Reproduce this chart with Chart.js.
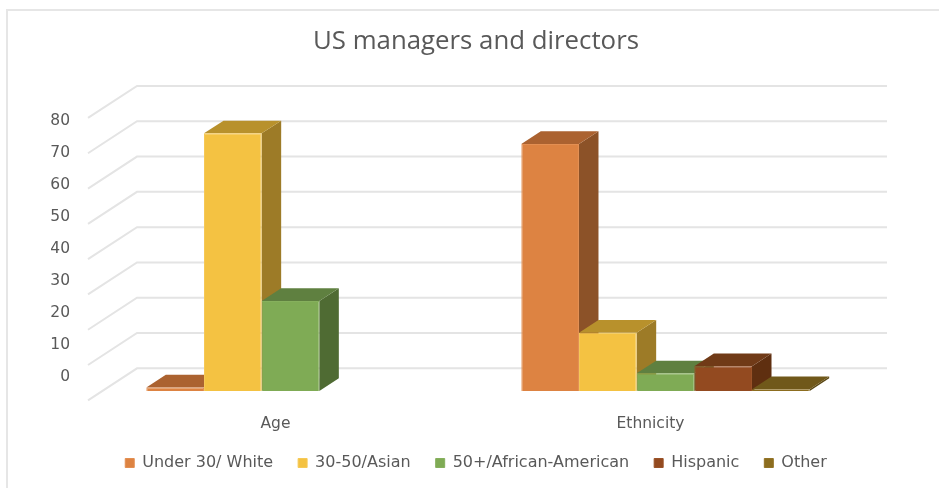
<!DOCTYPE html>
<html>
<head>
<meta charset="utf-8">
<title>US managers and directors</title>
<script src="https://cdn.jsdelivr.net/npm/chart.js@4"></script>
<style>
    html, body { margin: 0; padding: 0; background: #fff; }
    #wrap { position: relative; width: 939px; height: 488px; }
</style>
</head>
<body>
<div id="wrap"><canvas id="chart"></canvas></div>
<script>
var categories = ['Age', 'Ethnicity'];
var seriesNames = ['Under 30/ White', '30-50/Asian', '50+/African-American', 'Hispanic', 'Other'];
var under30White = [1, 70];
var age30to50Asian = [73, 16.5];
var age50plusAfrican = [25.5, 5];
var hispanic = [null, 7];
var other = [null, 0.5];
var tickValues = [0, 10, 20, 30, 40, 50, 60, 70, 80];

var frontColors = ['#dd8342', '#f4c242', '#7fab55', '#934a20', '#8c6d1f'];
var edgeColors = ['#e38f52', '#f6c957', '#86b05d', '#9a5228', '#937427'];
var topColors = ['#ab6230', '#b8912c', '#5f8040', '#703a17', '#70581a'];
var sideColors = ['#8c5228', '#9d7b27', '#4f6b33', '#5f2f10', '#5a4713'];

var gridColor = '#e4e4e4';
var textColor = '#595959';

// offsets of the 3D box, in pixels from the plane the bars stand on
var floorFront = { x: -15, y: 9.3 };
var backWall = { x: 34, y: -22.7 };
var barDepth = { x: 19.5, y: -12.7 };

function poly(ctx, pts, color) {
    ctx.fillStyle = color;
    ctx.beginPath();
    ctx.moveTo(pts[0][0], pts[0][1]);
    for (var i = 1; i < pts.length; i++) {
        ctx.lineTo(pts[i][0], pts[i][1]);
    }
    ctx.closePath();
    ctx.fill();
}

// frame of the picture, floor and back wall lines
var wallsPlugin = {
    id: 'walls',
    afterLayout: function(chart) {
        // tick labels get clipped to the axis box, let them hang into the legend's space
        chart.scales.x.bottom += 8;
    },
    beforeDatasetsDraw: function(chart) {
        var ctx = chart.ctx;
        var area = chart.chartArea;
        var y = chart.scales.y;

        ctx.save();
        ctx.strokeStyle = '#e6e6e6';
        ctx.lineWidth = 2;
        ctx.beginPath();
        ctx.moveTo(939, 10);
        ctx.lineTo(7, 10);
        ctx.lineTo(7, 488);
        ctx.stroke();

        ctx.strokeStyle = gridColor;
        ctx.lineWidth = 2;
        tickValues.forEach(function(v) {
            var py = y.getPixelForValue(v);
            ctx.beginPath();
            ctx.moveTo(area.left + floorFront.x, py + floorFront.y);
            ctx.lineTo(area.left + backWall.x, py + backWall.y);
            ctx.lineTo(area.right + backWall.x, py + backWall.y);
            ctx.stroke();
        });

        // side and top of each bar, left to right so the next bar covers the previous one
        chart.data.datasets.forEach(function(ds, i) {
            var meta = chart.getDatasetMeta(i);
            meta.data.forEach(function(bar, j) {
                if (ds.data[j] === null) {
                    return;
                }
                var p = bar.getProps(['x', 'y', 'base', 'width'], true);
                var l = p.x - p.width / 2;
                var r = p.x + p.width / 2;
                poly(ctx, [[r, p.y], [r + barDepth.x, p.y + barDepth.y],
                    [r + barDepth.x, p.base + barDepth.y], [r, p.base]], sideColors[i]);
                poly(ctx, [[l, p.y], [l + barDepth.x, p.y + barDepth.y],
                    [r + barDepth.x, p.y + barDepth.y], [r, p.y]], topColors[i]);
            });
        });
        ctx.restore();
    }
};

var datasets = [under30White, age30to50Asian, age50plusAfrican, hispanic, other].map(function(values, i) {
    return {
        label: seriesNames[i],
        data: values,
        backgroundColor: frontColors[i],
        borderColor: edgeColors[i],
        borderWidth: 1,
        categoryPercentage: 0.769,
        barPercentage: 1
    };
});

new Chart(document.getElementById('chart'), {
    type: 'bar',
    data: { labels: categories, datasets: datasets },
    plugins: [wallsPlugin],
    options: {
        responsive: true,
        maintainAspectRatio: false,
        animation: false,
        layout: { padding: { left: 13, right: 0, top: 0, bottom: 7 } },
        plugins: {
            title: {
                display: true,
                text: 'US managers and directors',
                color: textColor,
                font: { family: 'Open Sans', size: 25.8, weight: 'normal' },
                padding: { top: 26, bottom: 51.7 }
            },
            legend: {
                position: 'bottom',
                labels: {
                    color: textColor,
                    font: { family: 'DejaVu Sans', size: 16 },
                    boxWidth: 9,
                    boxHeight: 9,
                    padding: 25
                }
            },
            tooltip: { enabled: false }
        },
        scales: {
            x: {
                grid: { display: false },
                border: { display: false },
                afterFit: function(scale) { scale.height = 39; },
                ticks: {
                    color: textColor,
                    font: { family: 'DejaVu Sans', size: 15.5 },
                    padding: 16,
                    labelOffset: -15
                }
            },
            y: {
                position: 'right',
                min: 0,
                max: 80,
                grid: { display: false },
                border: { display: false },
                ticks: { display: false },
                afterFit: function(scale) { scale.width = 86; }
            },
            // the printed labels do not line up with the grid in the picture
            yLabels: {
                position: 'left',
                min: -4.375,
                max: 83.8,
                grid: { display: false },
                border: { display: false },
                afterBuildTicks: function(scale) {
                    scale.ticks = tickValues.map(function(v) { return { value: v }; });
                },
                afterFit: function(scale) { scale.width = 90; },
                ticks: {
                    color: textColor,
                    font: { family: 'DejaVu Sans', size: 15.5 },
                    padding: 25
                }
            }
        }
    }
});
</script>
</body>
</html>
